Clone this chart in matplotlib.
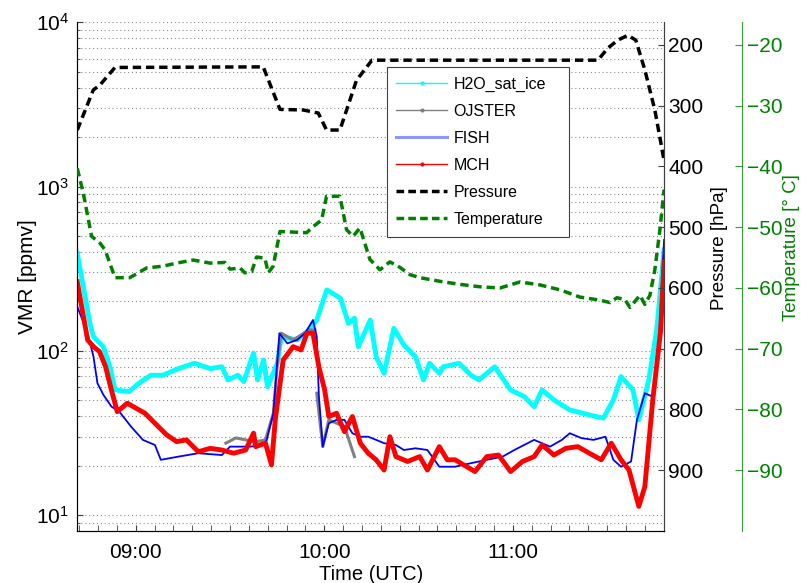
import matplotlib
matplotlib.use('Agg')
import matplotlib.pyplot as plt
import numpy as np
from matplotlib.lines import Line2D
from matplotlib.ticker import FixedLocator, FuncFormatter, LogLocator

plt.rcParams['font.family'] = ['Liberation Sans', 'DejaVu Sans']
plt.rcParams['mathtext.fontset'] = 'custom'
plt.rcParams['mathtext.rm'] = 'Liberation Sans'
plt.rcParams['mathtext.it'] = 'Liberation Sans:italic'
plt.rcParams['mathtext.bf'] = 'Liberation Sans:bold'

# %% Data (time in decimal hours UTC)
h2o_t = [8.690, 8.722, 8.757, 8.775, 8.828, 8.863, 8.890, 8.965, 9.017, 9.080,
         9.143, 9.227, 9.311, 9.395, 9.457, 9.489, 9.542, 9.573, 9.625, 9.646,
         9.678, 9.699, 9.751, 9.772, 9.856, 9.919, 9.960, 10.013, 10.086, 10.128,
         10.160, 10.180, 10.244, 10.275, 10.317, 10.369, 10.422, 10.484, 10.526, 10.558,
         10.610, 10.631, 10.715, 10.778, 10.820, 10.904, 10.988, 11.061, 11.113, 11.155,
         11.218, 11.302, 11.406, 11.480, 11.533, 11.574, 11.637, 11.668, 11.721, 11.763,
         11.802]
h2o_v = [392, 246, 147, 122, 106, 80, 57.8, 56.5, 63.5, 71,
         71, 78, 84, 78, 80, 66.5, 71, 65, 96.7, 66.5,
         88, 60.5, 84, 122, 116.5, 134, 154, 235, 209, 147,
         158, 106, 154, 92, 73, 137, 108.6, 92, 66.5, 84,
         73, 80, 84, 71, 66.5, 80, 57.8, 52.6, 45.7, 57.8,
         50.2, 43.7, 40.7, 38.9, 50.2, 69.7, 57.8, 38.0, 66.5, 134,
         411]

# OJSTER has a data gap around 09:57
ojster_t = [9.478, 9.531, 9.583, 9.636, 9.688, 9.730, 9.751, 9.772, 9.835, 9.919,
            9.950, np.nan, 9.960, 9.992, 10.024, 10.107, 10.160]
ojster_v = [27.4, 29.5, 28.7, 27.9, 28.7, 41.7, 84, 128, 116.5, 134,
            134, np.nan, 55.2, 26.1, 38.0, 34.6, 22.7]

fish_t = [8.690, 8.745, 8.776, 8.797, 8.829, 8.871, 8.913, 8.975, 9.038, 9.102,
          9.133, 9.227, 9.332, 9.457, 9.500, 9.604, 9.688, 9.730, 9.762, 9.804,
          9.856, 9.898, 9.940, 9.960, 9.971, 9.992, 10.024, 10.065, 10.107, 10.149,
          10.191, 10.233, 10.275, 10.317, 10.380, 10.422, 10.484, 10.547, 10.610, 10.694,
          10.778, 10.862, 10.946, 11.008, 11.113, 11.197, 11.260, 11.302, 11.364, 11.428,
          11.491, 11.533, 11.574, 11.627, 11.658, 11.700, 11.742, 11.773, 11.802]
fish_v = [186, 128, 92.2, 63.5, 53.9, 45.8, 42.6, 34.6, 28.7, 26.7,
          21.7, 22.7, 23.8, 23.2, 26.1, 26.1, 26.7, 41.7, 128, 111,
          116.5, 128, 154, 122, 53.9, 26.1, 36.2, 38.0, 38.0, 31.5,
          30.0, 30.0, 28.7, 27.4, 26.7, 24.9, 25.5, 24.9, 19.7, 19.7,
          20.7, 21.7, 22.7, 24.9, 28.7, 26.1, 28.7, 31.5, 29.4, 28.7,
          30.0, 21.7, 19.7, 21.2, 38.0, 55.2, 52.6, 106, 473]

mch_t = [8.690, 8.745, 8.776, 8.808, 8.840, 8.871, 8.902, 8.955, 9.017, 9.049,
         9.102, 9.164, 9.217, 9.269, 9.332, 9.395, 9.457, 9.520, 9.583, 9.625,
         9.636, 9.688, 9.720, 9.740, 9.782, 9.835, 9.877, 9.908, 9.940, 9.971,
         10.002, 10.024, 10.065, 10.107, 10.149, 10.191, 10.233, 10.275, 10.317, 10.348,
         10.380, 10.442, 10.506, 10.547, 10.610, 10.652, 10.694, 10.799, 10.862, 10.924,
         10.988, 11.051, 11.113, 11.155, 11.218, 11.281, 11.344, 11.406, 11.469, 11.522,
         11.574, 11.616, 11.668, 11.700, 11.742, 11.784, 11.802]
mch_v = [263, 116.5, 106, 98.9, 80.1, 57.8, 42.6, 48.0, 43.7, 41.7,
         36.2, 30.8, 28.0, 28.7, 24.3, 25.5, 24.9, 23.8, 24.9, 31.5,
         26.1, 27.4, 20.2, 38.0, 88, 106, 101.3, 128, 128, 80.1,
         57.8, 39.8, 41.7, 32.2, 39.8, 27.4, 23.8, 21.7, 18.8, 30.0,
         22.7, 21.2, 22.7, 18.8, 26.1, 21.7, 21.7, 18.4, 22.7, 23.2,
         18.4, 21.2, 22.7, 26.7, 23.2, 25.5, 26.1, 23.8, 21.7, 27.4,
         21.7, 18.8, 11.3, 14.9, 50.2, 134, 348]

pres_t = [8.690, 8.775, 8.810, 8.890, 9.676, 9.765, 9.888, 9.968, 10.012, 10.083,
          10.171, 10.253, 11.451, 11.504, 11.557, 11.610, 11.652, 11.700, 11.753, 11.802]
pres_v = [340, 274, 266, 237, 236, 306, 307, 312, 340, 340,
          258, 225, 225, 205, 192, 184, 192, 241, 307, 390]

temp_t = [8.690, 8.722, 8.766, 8.810, 8.837, 8.890, 8.969, 9.058, 9.146, 9.217,
          9.305, 9.394, 9.473, 9.500, 9.553, 9.579, 9.615, 9.641, 9.685, 9.703,
          9.729, 9.765, 9.906, 9.941, 9.986, 10.012, 10.083, 10.118, 10.153, 10.189,
          10.242, 10.295, 10.348, 10.401, 10.454, 10.507, 10.613, 10.719, 10.825, 10.932,
          11.038, 11.144, 11.250, 11.356, 11.462, 11.515, 11.552, 11.594, 11.621, 11.674,
          11.700, 11.727, 11.753, 11.780, 11.802]
temp_v = [-40.3, -44.4, -51.5, -52.6, -53.7, -58.3, -58.3, -56.7, -56.4, -55.9,
          -55.4, -55.9, -55.8, -56.9, -56.7, -57.5, -57.3, -54.9, -55.1, -57.5,
          -56.4, -50.7, -50.9, -49.9, -48.8, -44.9, -44.9, -50.4, -51.5, -50.1,
          -55.3, -57.0, -55.7, -56.6, -57.8, -58.3, -58.9, -59.4, -59.8, -60.0,
          -59.0, -59.5, -60.3, -61.5, -62.0, -62.4, -61.6, -61.9, -63.2, -61.2,
          -62.7, -61.2, -57.0, -50.4, -43.8]

vmr_lim = (8, 1e4)
pres_lim = (1000, 162.7)
temp_lim = (-100, -16.27)
t_lim = (8.69, 11.803)

GREEN = '#008000'
SPINE = '#404040'
DASH = (0, (2.4, 1.4))

# %% Figure
fig = plt.figure(figsize=(8.04, 5.83), dpi=100)
ax = fig.add_axes([0.0961, 0.0892, 0.7301, 0.8725])

ax.plot(h2o_t, h2o_v, color='cyan', lw=3.5, zorder=3)
ax.plot(ojster_t, ojster_v, color='0.5', lw=2.2, zorder=3)
ax.plot(fish_t, fish_v, color='blue', lw=1.3, zorder=3)
ax.plot(mch_t, mch_v, color='red', lw=3.5, zorder=3)

ax.set_yscale('log')
ax.set_ylim(*vmr_lim)
ax.set_xlim(*t_lim)
ax.yaxis.set_minor_locator(LogLocator(base=10, subs=np.arange(2, 10)))
ax.grid(True, which='both', axis='y', ls=(0, (1, 2.5)), color='0.55', lw=0.8)
ax.xaxis.set_major_locator(FixedLocator([9, 10, 11]))
ax.xaxis.set_minor_locator(FixedLocator(np.arange(8.7, 11.81, 0.1)))
ax.xaxis.set_major_formatter(FuncFormatter(
    lambda v, pos: f'{int(v):02d}:{int(round((v % 1) * 60)):02d}'))
ax.tick_params(axis='both', which='both', direction='in', labelsize=15,
               colors=SPINE, labelcolor='black')
ax.tick_params(axis='x', which='both', length=4, pad=9)
ax.tick_params(axis='y', which='major', length=4, pad=6)
ax.tick_params(axis='y', which='minor', length=2)
ax.spines['top'].set_visible(False)
for s in ('left', 'bottom', 'right'):
    ax.spines[s].set_color(SPINE)
ax.set_xlabel('Time (UTC)', fontsize=14.5, labelpad=2)
ax.set_ylabel('VMR [ppmv]', fontsize=15, labelpad=-1)

# Pressure axis
ax2 = ax.twinx()
ax2.plot(pres_t, pres_v, color='black', lw=2.5, ls=DASH)
ax2.set_ylim(*pres_lim)
ax2.set_xlim(*t_lim)
ax2.set_yticks(range(200, 1000, 100))
ax2.tick_params(axis='y', direction='in', length=4, labelsize=15, pad=3,
                colors=SPINE, labelcolor='black')
ax2.spines['top'].set_visible(False)
ax2.spines['right'].set_color(SPINE)
ax2.set_ylabel('Pressure [hPa]', fontsize=13.5)
ax2.yaxis.set_label_coords(1.079, 0.557)

# Temperature axis
ax3 = ax.twinx()
ax3.plot(temp_t, temp_v, color=GREEN, lw=2.5, ls=DASH)
ax3.set_ylim(*temp_lim)
ax3.set_xlim(*t_lim)
ax3.spines['right'].set_position(('axes', 1.133))
for s in ('top', 'left', 'bottom'):
    ax3.spines[s].set_visible(False)
ax3.spines['right'].set_color('#33a033')
ax3.set_yticks(range(-90, -10, 10))
ax3.tick_params(axis='y', direction='in', length=5, labelsize=15, pad=3,
                colors='#33a033', labelcolor=GREEN)
ax3.set_ylabel('Temperature [° C]', fontsize=13.5, color=GREEN)
ax3.yaxis.set_label_coords(1.203, 0.557)

handles = [
    Line2D([], [], color='cyan', lw=1, marker='.', markersize=4),
    Line2D([], [], color='0.5', lw=1, marker='.', markersize=4),
    Line2D([], [], color='#8c96ff', lw=2.2),
    Line2D([], [], color='red', lw=1, marker='.', markersize=4),
    Line2D([], [], color='black', lw=2.5, ls=(0, (2.2, 1.2))),
    Line2D([], [], color=GREEN, lw=2.5, ls=(0, (2.2, 1.2))),
]
labels = ['H2O_sat_ice', 'OJSTER', 'FISH', 'MCH', 'Pressure', 'Temperature']
leg = ax3.legend(handles, labels, loc='upper left',
                 bbox_to_anchor=(0.527, 0.585, 0.311, 0.3265), mode='expand',
                 fontsize=11.5, frameon=True, fancybox=False, framealpha=1,
                 edgecolor='#404040', handlelength=3.2, handletextpad=0.4,
                 labelspacing=0.75, borderpad=0.6, borderaxespad=0)
leg.get_frame().set_linewidth(0.8)

fig.savefig('out.png', dpi=100)
